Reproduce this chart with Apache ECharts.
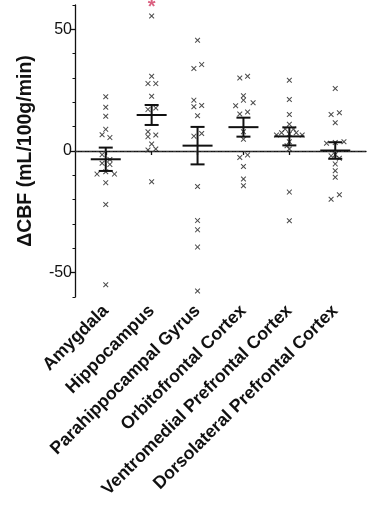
<!DOCTYPE html>
<html>
<head>
<meta charset="utf-8">
<script src="https://cdn.jsdelivr.net/npm/echarts@6/dist/echarts.min.js"></script>
<style>
html,body{margin:0;padding:0;background:#fff;}
#chart{width:375px;height:512px;}
</style>
</head>
<body>
<div id="chart"></div>
<script>
// ---- data ----
const categories = ['Amygdala','Hippocampus','Parahippocampal Gyrus','Orbitofrontal Cortex','Ventromedial Prefrontal Cortex','Dorsolateral Prefrontal Cortex'];

const amygdalaVals = [22.3, 18.0, 14.3, 8.9, 6.7, 5.5, -1.5, -3.5, -5.0, -5.5, -8.5, -9.5, -9.5, -13.0, -22.0, -55.0];
const amygdalaJit  = [0, 0, 0, 0, -0.08, 0.09, -0.08, 0.09, -0.08, 0.09, 0, -0.19, 0.19, 0, 0, 0];

const hippocampusVals = [55.5, 30.7, 27.7, 27.7, 22.5, 17.1, 17.7, 7.9, 6.6, 5.9, 2.9, 0.4, 0.8, -12.6];
const hippocampusJit  = [0, 0, -0.08, 0.09, 0, -0.08, 0.09, -0.08, 0.09, -0.08, 0, -0.08, 0.09, 0];

const parahippocampalVals = [45.5, 35.5, 33.9, 20.9, 18.7, 18.2, 14.5, 7.2, 6.1, -14.6, -28.6, -32.4, -39.5, -57.5];
const parahippocampalJit  = [0, 0.09, -0.08, -0.08, 0.09, -0.08, 0, 0.09, -0.08, 0, 0, 0, 0, 0];

const orbitofrontalVals = [30.7, 30.0, 22.7, 20.9, 19.8, 18.6, 16.0, 15.2, 7.9, 4.8, -1.6, -2.7, -6.4, -11.5, -14.3];
const orbitofrontalJit  = [0.09, -0.08, 0, 0, 0.21, -0.17, 0.09, -0.08, 0, 0, 0.09, -0.08, 0, 0, 0];

const ventromedialVals = [29.1, 21.2, 15.0, 11.0, 9.0, 9.0, 7.5, 7.5, 7.0, 6.6, 6.6, 3.8, 2.2, 0.8, -16.9, -28.7];
const ventromedialJit  = [0, 0, 0, 0, -0.09, 0.09, -0.17, 0.15, 0, -0.28, 0.28, 0, -0.05, 0, 0, 0];

const dorsolateralVals = [25.7, 15.7, 15.0, 11.6, 3.8, 3.5, 3.2, -1.5, -2.0, -3.0, -5.3, -8.1, -10.8, -18.0, -19.8];
const dorsolateralJit  = [0, 0.09, -0.09, 0, 0.19, 0, -0.19, 0, -0.09, 0.09, 0, 0, 0, 0.09, -0.09];

const means = [-3.4, 14.8, 2.2, 9.8, 6.0, 0.2];
const sems  = [4.8, 4.1, 7.7, 3.9, 3.7, 3.4];

const significant = ['Hippocampus'];
const sigValue = 58.8;

const yMajorTicks = [-50, 0, 50];
const yMinorTicks = [-60, -50, -40, -30, -20, -10, 0, 10, 20, 30, 40, 50, 60];

// ---- build ----
const groupVals = [amygdalaVals, hippocampusVals, parahippocampalVals, orbitofrontalVals, ventromedialVals, dorsolateralVals];
const groupJit  = [amygdalaJit, hippocampusJit, parahippocampalJit, orbitofrontalJit, ventromedialJit, dorsolateralJit];
const points = [];
groupVals.forEach((vals, gi) => {
  vals.forEach((v, k) => points.push([gi + 1 + groupJit[gi][k], v]));
});
const errData = means.map((m, i) => [i + 1, m, sems[i]]);
const sigData = significant.map(name => [categories.indexOf(name) + 1, sigValue]);
const catPositions = categories.map((c, i) => i + 1);

const FONT = 'Liberation Sans, Arial, sans-serif';
const xShape = 'path://M0,1.3L1.3,0L5,3.7L8.7,0L10,1.3L6.3,5L10,8.7L8.7,10L5,6.3L1.3,10L0,8.7L3.7,5Z';

const chart = echarts.init(document.getElementById('chart'), null, {renderer: 'canvas'});
chart.setOption({
  backgroundColor: '#fff',
  animation: false,
  grid: {left: 75, top: 5, width: 291, height: 292},
  xAxis: {
    type: 'value', min: 0.33, max: 6.67,
    splitLine: {show: false},
    axisLine: {show: true, lineStyle: {color: '#111', width: 1.3}},
    axisTick: {show: true, customValues: catPositions, length: 4, lineStyle: {color: '#111', width: 1.3}},
    axisLabel: {
      show: true, customValues: catPositions, rotate: 45, margin: 11,
      fontFamily: FONT, fontWeight: 'bold', fontSize: 17.7, color: '#111',
      formatter: v => categories[Math.round(v) - 1]
    }
  },
  yAxis: [{
    type: 'value', min: -60, max: 60,
    splitLine: {show: false},
    axisLine: {show: true, lineStyle: {color: '#111', width: 1.3}},
    axisTick: {show: true, customValues: yMajorTicks, length: 5, lineStyle: {color: '#111', width: 1.3}},
    axisLabel: {show: true, customValues: yMajorTicks, margin: 3, fontFamily: FONT, fontSize: 16, color: '#111'},
    name: 'ΔCBF (mL/100g/min)', nameLocation: 'middle', nameRotate: 90, nameGap: 39,
    nameTextStyle: {fontFamily: FONT, fontWeight: 'bold', fontSize: 19.5, color: '#111'}
  }, {
    type: 'value', min: -60, max: 60, position: 'left', offset: 0,
    splitLine: {show: false},
    axisLine: {show: false},
    axisTick: {show: true, customValues: yMinorTicks, length: 2.5, lineStyle: {color: '#111', width: 1}},
    axisLabel: {show: false}
  }],
  series: [{
    type: 'scatter',
    data: points,
    symbol: xShape,
    symbolSize: 5.5,
    itemStyle: {color: '#1e1e1e'},
    z: 3,
    markLine: {
      silent: true, symbol: 'none', label: {show: false},
      lineStyle: {type: [3, 1.5, 1, 1.5], color: '#333', width: 1.1},
      data: [{yAxis: 0}]
    }
  }, {
    type: 'custom',
    data: errData,
    z: 4,
    renderItem: (params, api) => {
      const i = api.value(0), m = api.value(1), s = api.value(2);
      const c = api.coord([i, m]);
      const t = api.coord([i, m + s]);
      const b = api.coord([i, m - s]);
      const st = {stroke: '#111', lineWidth: 2};
      return {type: 'group', children: [
        {type: 'line', shape: {x1: c[0] - 15, y1: c[1], x2: c[0] + 15, y2: c[1]}, style: st},
        {type: 'line', shape: {x1: t[0] - 7, y1: t[1], x2: t[0] + 7, y2: t[1]}, style: st},
        {type: 'line', shape: {x1: b[0] - 7, y1: b[1], x2: b[0] + 7, y2: b[1]}, style: st},
        {type: 'line', shape: {x1: t[0], y1: t[1], x2: b[0], y2: b[1]}, style: st}
      ]};
    }
  }, {
    type: 'scatter',
    data: sigData,
    symbolSize: 1,
    itemStyle: {color: 'rgba(0,0,0,0)'},
    label: {show: true, position: 'inside', formatter: '*', color: '#d23a62', fontSize: 20, fontWeight: 'bold', fontFamily: FONT},
    z: 5
  }]
});
</script>
</body>
</html>
